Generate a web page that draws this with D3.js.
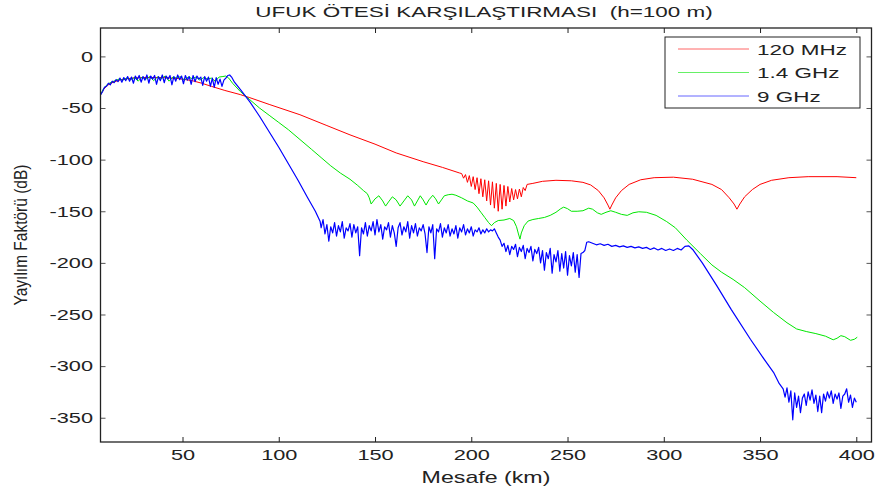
<!DOCTYPE html>
<html>
<head>
<meta charset="utf-8">
<script src="https://cdn.jsdelivr.net/npm/d3@7"></script>
<style>
  body { margin: 0; background: #fff; }
  text { font-family: "Liberation Sans", Arial, sans-serif; fill: #222; }
</style>
</head>
<body>
<div id="chart"></div>
<script>
const width = 879;
const height = 492;
const stretch = 1.45;  // the reference text is drawn wide

// tick labels
const xTicks = [50, 100, 150, 200, 250, 300, 350, 400];
const yTicks = [0, -50, -100, -150, -200, -250, -300, -350];
const seriesNames = ["120 MHz", "1.4 GHz", "9 GHz"];
const seriesColors = ["#ff0000", "#00e600", "#0000ff"];
const seriesWidths = [1, 1, 1.2];

// 120 MHz
const redKm = [7.5, 9, 11, 14, 18, 24, 30, 40, 48, 55, 60, 65, 72, 80, 85, 95, 111, 125, 137, 150, 161, 175, 185, 194,
  195, 196, 197, 198, 199, 200, 201, 202, 203, 204, 205, 206, 207, 208, 209, 210, 211, 212, 213, 214, 215, 216, 217,
  218, 219, 220, 221, 222, 223, 224, 225, 226, 227, 228, 229,
  232, 237, 244, 252, 258, 262, 266, 269, 271, 272, 273, 275, 278, 282, 288, 295, 305, 315, 325, 330, 334, 336.5,
  338, 339.5, 342, 346, 350, 356, 365, 375, 390, 400];
const redDb = [-37, -32, -28, -25, -22.5, -21, -20.5, -20.5, -21.5, -23.5, -26, -29, -33, -37, -40, -46.5, -56.5, -67, -76, -85, -93.5, -102, -107.5, -113,
  -113.5, -118, -114.5, -122, -115.5, -126, -116.5, -129, -117.5, -133, -118.5, -136, -119.5, -140, -120.5, -144, -121.5, -147, -123, -150, -124, -148, -125,
  -145, -126, -141, -128, -139, -129, -138, -128.5, -136, -127, -130, -124,
  -123, -121, -120, -120.5, -122, -124.5, -130, -137, -144, -148, -144, -137, -130, -124, -119.5, -117.5, -117, -119, -124, -129, -137, -143,
  -148, -143, -136, -129, -124, -120, -117.5, -116.5, -116.5, -117.5];

// 1.4 GHz
const greenKm = [7.5, 9, 11, 13, 15, 17, 19, 21, 23, 25, 27, 29, 31, 33, 35, 37, 39, 41, 43, 45, 47, 49, 51, 53, 55, 57, 59, 61, 63, 65, 67, 69, 71, 72.5,
  74, 76, 80, 85, 90, 95, 100, 105, 111, 117, 122, 127, 132, 137, 141, 144, 146,
  147, 148, 150, 152, 154, 155.5, 157, 159, 161, 163, 165, 167, 169, 170.5, 172, 173.5, 175, 176.5, 178, 180, 181.5, 183, 184.5, 186, 188, 190,
  192, 195, 198, 201, 203, 205, 207, 209, 210.5, 212, 214, 217, 220, 222, 223.5, 224.5, 225.3, 226, 227.5, 229.5, 232, 235, 238, 241, 244, 246.5,
  248, 250, 252, 255, 258, 261, 263, 265.5, 267.5, 270, 272.5, 275, 278, 281, 284, 287, 291, 296, 301.5, 306, 312, 319, 325, 330, 336, 342,
  350, 357, 364, 369, 374, 379, 384, 388, 390, 392, 394, 397, 399, 400.5];
const greenDb = [-37, -31, -27, -25, -23.5, -22, -23, -21, -22.5, -20.5, -24, -20, -22, -19.5, -23.5, -20, -21.5, -19, -24, -20, -21, -19.5, -23, -20, -21.5, -20, -23, -20.5, -22, -21, -24, -20, -19.5, -19,
  -21, -26, -34, -42, -50, -57, -64, -71, -80.5, -90, -98, -106, -113, -119, -125, -130, -133,
  -137, -143, -138, -135, -140, -145, -141, -136, -139, -145, -140, -135, -139, -145, -140, -135, -139, -144, -139, -134.5, -138, -143, -139, -135, -134, -133.5,
  -134.5, -137, -140, -142, -146, -151, -156, -161, -164, -161, -159, -158.5, -157, -159, -165, -172, -177, -171, -164, -159.5, -158, -157, -156, -154, -151, -147.5,
  -146, -147.5, -150, -150, -149.5, -147, -148, -151.5, -153, -151, -149.5, -151, -153, -154, -151.5, -150.5, -151, -154, -160, -166, -178, -191, -202, -209, -216, -224,
  -237, -248, -258, -264, -266.5, -268.5, -271, -274.5, -273, -270.5, -271.5, -275, -274, -272];

// 9 GHz
const blueKm = [7.5, 8.5, 9.5, 10.5, 11.5, 12.5, 13.5, 14.5, 15.5, 16.5, 17.5, 18.5, 19.5, 20.5, 21.5, 22.5, 23.5, 24.5, 25.5, 26.5, 27.5, 28.5,
  29.5, 30.5, 31.5, 32.5, 33.5, 34.5, 35.5, 36.5, 37.5, 38.5, 39.5, 40.5, 41.5, 42.5, 43.5, 44.5, 45.5, 46.5, 47.5, 48.5, 49.5, 50.5, 51.5, 52.5,
  53.5, 54.5, 55.5, 56.5, 57.5, 58.5, 59.5, 60.5, 61.5, 62.5, 63.5, 64.5, 65.5, 66.5, 67.5, 68.5, 69.5, 70.5, 71.5, 72.5, 73.5, 74.5, 75.5, 77,
  80, 85, 90, 95, 100, 105, 110, 115, 119, 121.5,
  122, 123, 124, 125, 126, 127, 128, 129, 130, 131, 132, 133, 134, 135, 136, 137, 138, 139, 140, 141, 142, 143, 144, 145, 146, 147, 148, 149,
  150, 151, 152, 153, 154, 155, 156, 157, 158, 159, 160, 161, 162, 163, 164, 165, 166, 167, 168, 169, 170, 171, 172, 173, 174, 175, 176, 177,
  178, 179, 180, 181, 182, 183, 184, 185, 186, 187, 188, 189, 190, 191, 192, 193, 194, 195, 196, 197, 198, 199, 200, 201, 202, 203, 204, 205,
  206, 207, 208, 209, 210, 211, 212, 213, 214,
  215, 216, 217, 218, 219, 220, 221, 222, 223, 224, 225, 226, 227, 228, 229, 230, 231, 232, 233, 234, 235, 236, 237, 238, 239, 240, 241, 242,
  243, 244, 245, 246, 247, 248, 249, 250, 251, 252, 253, 254, 255, 256, 257, 258, 259, 260, 261,
  263, 265, 267, 269, 271, 273, 275, 277, 279, 281, 283, 285, 287, 289, 291, 293, 295, 297, 299, 301, 303, 305, 307, 309, 311, 313, 315,
  320, 327.5, 335, 345, 352, 357, 360, 362,
  363, 364, 365, 366, 367, 368, 369, 370, 371, 372, 373, 374, 375, 376, 377, 378, 379, 380, 381, 382, 383, 384, 385, 386, 387, 388, 389, 390,
  391, 392, 393, 394, 395, 396, 397, 398, 399, 400];
const blueDb = [-37, -34, -30, -29, -26, -27.5, -24, -25.5, -22.5, -24.5, -21, -25, -20.5, -23.5, -19.5, -24, -20, -26, -19, -22.5, -18.5, -25,
  -19.5, -23, -18, -26, -19, -22, -18.5, -27, -19.5, -23.5, -18, -25.5, -19, -22, -18.5, -27.5, -19.5, -24, -18, -22.5, -19, -26.5, -18.5, -23,
  -19.5, -27, -18.5, -24.5, -19, -22, -20, -28, -19.5, -24, -20, -29, -21, -30, -20.5, -27, -22, -29, -23, -21, -18.5, -18, -20, -25,
  -32, -44, -58, -73, -88, -104, -120, -137, -150, -160,
  -166, -158, -172, -163, -179, -165, -171, -161, -174, -164, -170, -160, -176, -166, -169, -162, -175, -163, -171, -165, -193, -166, -172, -161, -174, -164, -169, -160,
  -173, -158, -170, -163, -177, -165, -168, -161, -175, -164, -171, -184, -166, -161, -173, -165, -170, -160, -176, -164, -171, -162, -174, -166, -169, -163, -172, -190,
  -165, -171, -163, -196, -167, -170, -162, -175, -166, -171, -163, -174, -167, -172, -164, -176, -166, -170, -163, -173, -167, -171, -165, -174, -168, -170, -166, -172,
  -168, -171, -167, -170, -168, -169, -167, -171, -175,
  -178, -184, -181, -189, -183, -192, -184, -187, -182, -194, -185, -189, -183, -196, -186, -190, -184, -198, -187, -191, -185, -200, -188, -207, -190, -196, -186, -210,
  -192, -199, -188, -208, -191, -205, -189, -212, -193, -203, -190, -209, -192, -214, -191, -190, -188, -180, -179.5,
  -181, -182.5, -181.5, -183, -182, -184, -183, -184.5, -183.5, -185, -184, -185.5, -184.5, -186, -185, -187, -185.5, -187.5, -186, -188, -186.5, -188, -186, -187.5, -184, -183.5, -187,
  -200, -222, -245, -274, -293, -306, -317, -322,
  -330, -321, -335, -324, -352, -326, -340, -329, -345, -331, -327, -338, -325, -333, -323, -336, -328, -344, -329, -345, -327, -334, -325, -331, -324, -336, -327, -332,
  -326, -341, -329, -327, -322, -335, -328, -340, -331, -335];

const margin = { left: 100.5, right: 7.5, top: 28, bottom: 50 };

const x = d3.scaleLinear().domain([7.4, 407.9]).range([margin.left, width - margin.right]);
const y = d3.scaleLinear().domain([-373.5, 27.5]).range([height - margin.bottom, margin.top]);

const svg = d3.select("#chart").append("svg")
  .attr("width", width)
  .attr("height", height);

svg.append("defs").append("clipPath").attr("id", "clip")
  .append("rect")
  .attr("x", x.range()[0]).attr("y", y.range()[1])
  .attr("width", x.range()[1] - x.range()[0])
  .attr("height", y.range()[0] - y.range()[1]);

const line = d3.line().x(d => x(d[0])).y(d => y(d[1]));

const series = [
  d3.zip(redKm, redDb),
  d3.zip(greenKm, greenDb),
  d3.zip(blueKm, blueDb)
];

svg.append("g").attr("clip-path", "url(#clip)")
  .selectAll("path")
  .data(series)
  .enter().append("path")
  .attr("d", line)
  .attr("fill", "none")
  .attr("stroke", (d, i) => seriesColors[i])
  .attr("stroke-width", (d, i) => seriesWidths[i])
  .attr("stroke-linejoin", "round");

// axes (MATLAB style: ticks inside, box on)
const x0 = x.range()[0], x1 = x.range()[1], yb = y.range()[0], yt = y.range()[1];
const tickLen = 5;
const plainNum = d => String(d);  // keep the ASCII hyphen like the original

svg.append("g")
  .attr("transform", `translate(0,${yb})`)
  .call(d3.axisBottom(x).tickValues(xTicks).tickFormat(plainNum).tickSize(-tickLen).tickPadding(7).tickSizeOuter(0))
  .call(g => g.select(".domain").remove())
  .call(g => g.selectAll("line").attr("stroke", "#222"))
  .call(g => g.selectAll("text").attr("font-size", 15).attr("fill", "#222")
    .attr("transform", `scale(${stretch},1)`));

svg.append("g")
  .attr("transform", `translate(0,${yt})`)
  .call(d3.axisTop(x).tickValues(xTicks).tickSize(-tickLen).tickFormat("").tickSizeOuter(0))
  .call(g => g.select(".domain").remove())
  .call(g => g.selectAll("line").attr("stroke", "#222"));

svg.append("g")
  .attr("transform", `translate(${x0},0)`)
  .call(d3.axisLeft(y).tickValues(yTicks).tickFormat(plainNum).tickSize(-tickLen).tickSizeOuter(0))
  .call(g => g.select(".domain").remove())
  .call(g => g.selectAll("line").attr("stroke", "#555"))
  .call(g => g.selectAll("text").attr("font-size", 15).attr("fill", "#222")
    .attr("x", -7.5 / stretch)
    .attr("transform", `scale(${stretch},1)`));

svg.append("g")
  .attr("transform", `translate(${x1},0)`)
  .call(d3.axisRight(y).tickValues(yTicks).tickSize(-tickLen).tickFormat("").tickSizeOuter(0))
  .call(g => g.select(".domain").remove())
  .call(g => g.selectAll("line").attr("stroke", "#555"));

svg.append("rect")
  .attr("x", x0).attr("y", yt)
  .attr("width", x1 - x0).attr("height", yb - yt)
  .attr("fill", "none")
  .attr("stroke", "#222")
  .attr("stroke-width", 1.3);

// title and axis labels
svg.append("text")
  .attr("transform", `translate(484,16.5) scale(${stretch},1)`)
  .attr("text-anchor", "middle")
  .attr("font-size", 15.5)
  .style("white-space", "pre")
  .text("UFUK ÖTESİ KARŞILAŞTIRMASI  (h=100 m)");

svg.append("text")
  .attr("transform", `translate(${(x0 + x1) / 2},483) scale(${stretch},1)`)
  .attr("text-anchor", "middle")
  .attr("font-size", 16)
  .text("Mesafe (km)");

svg.append("text")
  .attr("transform", `translate(27,${(yt + yb) / 2}) scale(1.15,1) rotate(-90)`)
  .attr("text-anchor", "middle")
  .attr("font-size", 15.5)
  .text("Yayılım Faktörü (dB)");

// legend
const legend = svg.append("g").attr("transform", "translate(665,37)");
legend.append("rect")
  .attr("width", 195).attr("height", 71)
  .attr("fill", "#fff")
  .attr("stroke", "#222")
  .attr("stroke-width", 1);

seriesNames.forEach((name, i) => {
  const ly = 12 + i * 23.5;
  legend.append("line")
    .attr("x1", 13).attr("x2", 84)
    .attr("y1", ly).attr("y2", ly)
    .attr("stroke", seriesColors[i])
    .attr("stroke-opacity", 0.6)
    .attr("stroke-width", 1);
  legend.append("text")
    .attr("transform", `translate(92,${ly + 5.5}) scale(${stretch},1)`)
    .attr("font-size", 15.5)
    .text(name);
});
</script>
</body>
</html>
